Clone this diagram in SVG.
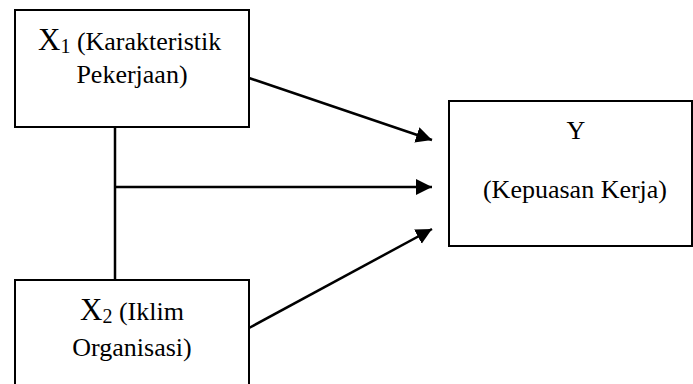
<svg xmlns="http://www.w3.org/2000/svg" width="693" height="384" viewBox="0 0 693 384">
<style>
.box{fill:#fff;stroke:#000;stroke-width:2}
.t{font-family:"Liberation Serif","Times New Roman",serif;font-size:26px;fill:#000}
.c{stroke:#000;stroke-width:2.5;fill:none}
</style>
<defs>
<marker id="ah" markerUnits="userSpaceOnUse" markerWidth="18" markerHeight="17" refX="16" refY="8" orient="auto">
<path d="M0,0 L16,8 L0,16 Z" fill="#000"/>
</marker>
</defs>
<rect width="693" height="384" fill="#fff"/>
<g id="connectors">
<line class="c" x1="115" y1="127" x2="115" y2="280"/>
<line class="c" x1="249" y1="78" x2="432" y2="140" marker-end="url(#ah)"/>
<line class="c" x1="115" y1="187" x2="432" y2="187" marker-end="url(#ah)"/>
<line class="c" x1="249" y1="328" x2="432" y2="229" marker-end="url(#ah)"/>
</g>
<g id="x1">
<rect class="box" x="15" y="10" width="234" height="117"/>
<text class="t" x="38" y="50"><tspan font-size="31">X</tspan><tspan font-size="20" dy="3">1</tspan><tspan dy="-3"> (Karakteristik</tspan></text>
<text class="t" x="132" y="83" text-anchor="middle">Pekerjaan)</text>
</g>
<g id="x2">
<rect class="box" x="15" y="280" width="234" height="112"/>
<text class="t" x="80" y="320"><tspan font-size="31">X</tspan><tspan font-size="20" dy="3">2</tspan><tspan dy="-3"> (Iklim</tspan></text>
<text class="t" x="132" y="356" text-anchor="middle">Organisasi)</text>
</g>
<g id="y">
<rect class="box" x="449" y="101" width="243" height="145"/>
<text class="t" x="576" y="139" text-anchor="middle">Y</text>
<text class="t" x="575" y="198" text-anchor="middle">(Kepuasan Kerja)</text>
</g>
</svg>
